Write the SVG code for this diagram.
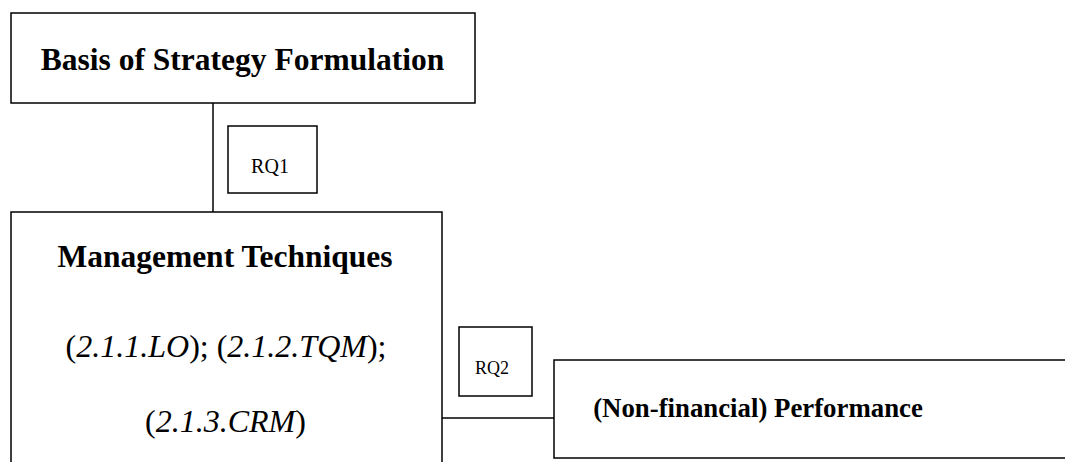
<svg xmlns="http://www.w3.org/2000/svg" width="1065" height="462" viewBox="0 0 1065 462">
<style>
.box{fill:#fff;stroke:#000;stroke-width:1.5}
.conn{stroke:#000;stroke-width:1.5;fill:none}
text{font-family:'Liberation Serif','Times New Roman',Times,serif;fill:#000;text-anchor:middle}
.b{font-weight:bold;font-size:31.5px}
.p{font-weight:bold;font-size:26.8px}
.n{font-size:32px}
.s{font-size:20px}
.s2{font-size:18px}
</style>
<rect width="1065" height="462" fill="#fff"/>
<g id="connectors">
<line class="conn" x1="213" y1="103" x2="213" y2="212"/>
<line class="conn" x1="442" y1="418" x2="554" y2="418"/>
</g>
<g id="basis">
<rect class="box" x="11" y="13" width="464" height="90"/>
<text class="b" x="242.5" y="70">Basis of Strategy Formulation</text>
</g>
<g id="rq1">
<rect class="box" x="228" y="126" width="89" height="67"/>
<text class="s" x="270" y="173">RQ1</text>
</g>
<g id="management">
<rect class="box" x="11" y="212" width="431" height="270"/>
<text class="b" x="225" y="267">Management Techniques</text>
<text class="n" x="226" y="357">(<tspan font-style="italic">2.1.1.LO</tspan>); (<tspan font-style="italic">2.1.2.TQM</tspan>);</text>
<text class="n" x="225.5" y="432">(<tspan font-style="italic">2.1.3.CRM</tspan>)</text>
</g>
<g id="rq2">
<rect class="box" x="459" y="327" width="73" height="69"/>
<text class="s2" x="492" y="374">RQ2</text>
</g>
<g id="performance">
<rect class="box" x="554" y="360" width="530" height="98"/>
<text class="p" x="758" y="416.5">(Non-financial) Performance</text>
</g>
</svg>
